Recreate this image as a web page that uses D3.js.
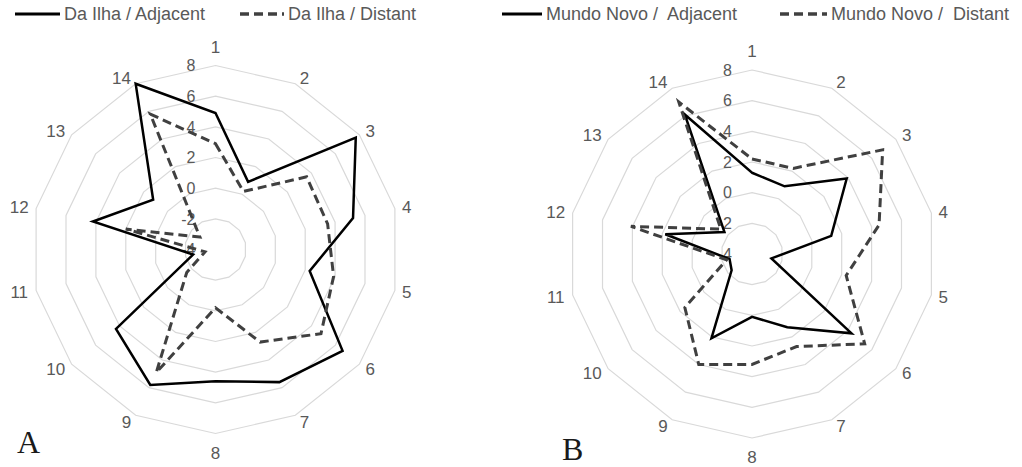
<!DOCTYPE html>
<html>
<head>
<meta charset="utf-8">
<script src="https://cdn.jsdelivr.net/npm/d3@7"></script>
<style>
  body { margin: 0; background: #fff; }
  svg { display: block; font-family: "Liberation Sans", Arial, sans-serif; }
  .ring { fill: none; stroke: #d9d9d9; stroke-width: 1.2; }
  .tick, .cat, .leg { fill: #595959; }
  .leg { white-space: pre; }
  .panel { font-family: "Liberation Serif", "Times New Roman", serif; fill: #1a1a1a; }
</style>
</head>
<body>
<svg id="chart" width="1022" height="467"></svg>
<script>
var categories = ['1','2','3','4','5','6','7','8','9','10','11','12','13','14'];
var ringValues = [-4, -2, 0, 2, 4, 6, 8];

var daIlhaAdjacent = [4.9, 0.9, 7.7, 5.2, 2.3, 6.6, 5.6, 4.6, 5.8, 4.3, -2.5, 4.2, 1.2, 8.0];
var daIlhaDistant  = [2.9, 0.2, 3.6, 3.5, 3.9, 4.8, 2.7, -0.2, 4.9, -1.6, -3.3, 2.0, -2.7, 5.8];
var mundoNovoAdjacent = [1.3, 0.9, 3.9, 1.3, -2.7, 4.3, 1.3, 0.1, 2.1, -2.3, -2.5, 1.8, -1.7, 6.1];
var mundoNovoDistant  = [2.2, 2.2, 6.9, 4.5, 2.3, 5.4, 2.7, 3.2, 4.0, 1.6, -2.3, 4.1, -1.4, 7.0];

var svg = d3.select('#chart');

// one radar panel
function radar(cx, cy, R, series, legend, letter) {
  var g = svg.append('g').attr('transform', 'translate(' + cx + ',' + cy + ')');
  var r = d3.scaleLinear().domain([d3.min(ringValues), d3.max(ringValues)]).range([0, R]);
  var step = 2 * Math.PI / categories.length;

  var ring = d3.lineRadial()
    .angle(function(d, i) { return i * step; })
    .radius(function(d) { return r(d); })
    .curve(d3.curveLinearClosed);

  // grid polygons
  g.selectAll('.ring')
    .data(ringValues.slice(1))
    .enter().append('path')
    .attr('class', 'ring')
    .attr('d', function(v) { return ring(categories.map(function() { return v; })); });

  // value labels left of the vertical axis
  g.selectAll('.tick')
    .data(ringValues)
    .enter().append('text')
    .attr('class', 'tick')
    .attr('x', -20)
    .attr('y', function(v) { return -r(v); })
    .attr('dy', '0.36em')
    .attr('text-anchor', 'end')
    .style('font-size', '16px')
    .text(function(v) { return v; });

  // category labels just outside the outer ring vertex (excel-like box placement)
  g.selectAll('.cat')
    .data(categories)
    .enter().append('text')
    .attr('class', 'cat')
    .attr('text-anchor', 'middle')
    .attr('dy', '0.36em')
    .style('font-size', '17px')
    .attr('x', function(d, i) {
      var s = Math.sin(i * step);
      var off = Math.abs(s) < 0.1 ? 0 : Math.sign(s) * (d.length * 5 + 2 + 5 * Math.abs(s));
      return s * R + off;
    })
    .attr('y', function(d, i) {
      var s = Math.sin(i * step), c = Math.cos(i * step);
      var off = Math.abs(s) < 0.1 ? Math.sign(c) * 19 : c * 7;
      return -c * R - off;
    })
    .text(function(d) { return d; });

  series.forEach(function(s) {
    g.append('path')
      .datum(s.values)
      .attr('d', ring)
      .attr('fill', 'none')
      .attr('stroke', s.color)
      .attr('stroke-width', s.width)
      .attr('stroke-dasharray', s.dash)
      .attr('stroke-linejoin', 'miter');
  });

  // legend
  legend.forEach(function(l, i) {
    var s = series[i];
    svg.append('line')
      .attr('x1', l.x).attr('x2', l.x + l.len)
      .attr('y1', 14).attr('y2', 14)
      .attr('stroke', s.color)
      .attr('stroke-width', s.width + 0.5)
      .attr('stroke-dasharray', s.dash);
    svg.append('text')
      .attr('class', 'leg')
      .attr('x', l.x + l.len + 4)
      .attr('y', 14)
      .attr('dy', '0.36em')
      .style('font-size', '18px')
      .text(l.text);
  });

  svg.append('text')
    .attr('class', 'panel')
    .attr('x', letter.x)
    .attr('y', letter.y)
    .style('font-size', '32px')
    .text(letter.text);
}

radar(215.5, 249.5, 184,
  [{ values: daIlhaAdjacent, color: '#000', width: 2.5, dash: null },
   { values: daIlhaDistant, color: '#404040', width: 3, dash: '9,5' }],
  [{ x: 15, len: 45, text: 'Da Ilha / Adjacent' },
   { x: 240, len: 44, text: 'Da Ilha / Distant' }],
  { x: 17, y: 453, text: 'A' });

radar(752, 254, 184,
  [{ values: mundoNovoAdjacent, color: '#000', width: 2.5, dash: null },
   { values: mundoNovoDistant, color: '#404040', width: 3, dash: '9,5' }],
  [{ x: 502, len: 40, text: 'Mundo Novo /  Adjacent' },
   { x: 780, len: 47, text: 'Mundo Novo /  Distant' }],
  { x: 562, y: 460, text: 'B' });
</script>
</body>
</html>
